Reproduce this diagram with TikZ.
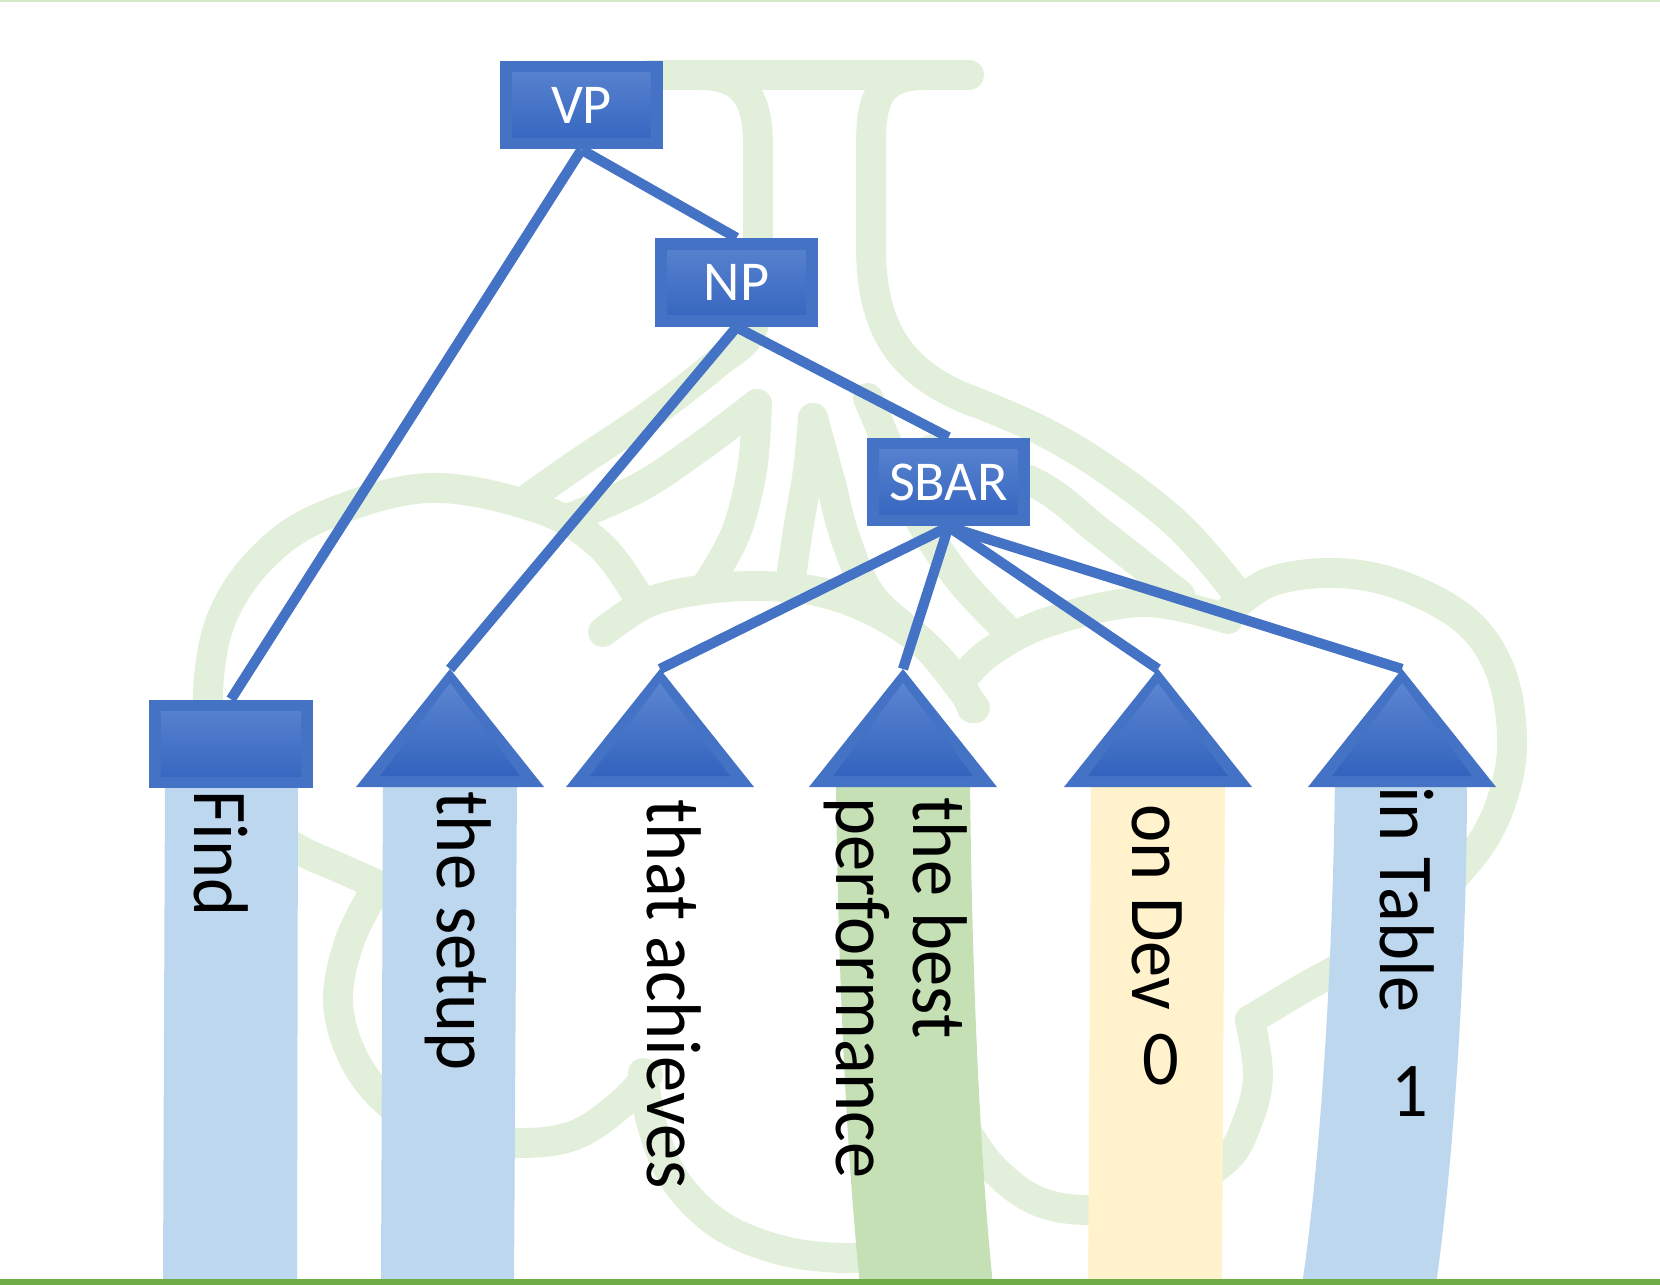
\documentclass[tikz,border=0pt]{standalone}
\usepackage{fontspec}
\setmainfont{Carlito}
\usetikzlibrary{calc}

\definecolor{nodeblue}{HTML}{4472C4}
\definecolor{nodetop}{HTML}{5B85D0}
\definecolor{nodebot}{HTML}{3263BE}
\definecolor{logogreen}{HTML}{E2EFDA}
\definecolor{colblue}{HTML}{BDD7EE}
\definecolor{colgreen}{HTML}{C5E0B4}
\definecolor{colyellow}{HTML}{FFF2CC}
\definecolor{rulegreen}{HTML}{70AD47}
\definecolor{toprule}{HTML}{D5E8C8}

\tikzset{
  logo/.style={draw=logogreen, line width=8.5pt, line cap=round, line join=round},
  edge/.style={draw=nodeblue, line width=2.9pt},
  catbox/.style={rectangle, fill=nodeblue, minimum width=1.62cm, minimum height=0.88cm,
    inner sep=0pt, text=white, font=\fontsize{16pt}{19pt}\selectfont,
    path picture={\shade[top color=nodetop, bottom color=nodebot]
      ($(path picture bounding box.south west)+(0.12cm,0.12cm)$) rectangle
      ($(path picture bounding box.north east)-(0.12cm,0.12cm)$);}},
  word/.style={inner sep=0pt, anchor=base west, rotate=-90, text=black,
    font=\fontsize{20.6pt}{24pt}\selectfont},
  digit/.style={inner sep=0pt, text=black, font=\fontsize{20.6pt}{24pt}\selectfont},
}

% draws a subtree triangle whose apex is the given coordinate
\newcommand{\subtree}[1]{%
  \fill[nodeblue] (#1) -- ++(-94,118) -- ++(188,0) -- cycle;
  \shade[top color=nodetop, bottom color=nodebot] ($(#1)+(0,14)$) -- ++(-70,93) -- ++(140,0) -- cycle;}

\begin{document}
\begin{tikzpicture}[x=0.01cm, y=-0.01cm]
\useasboundingbox (0,0) rectangle (1660,1285);

% ---------- background emblem ----------
% flask mouth and neck
\draw[logo] (650,75) -- (969,75);
\draw[logo] (700,75) .. controls (745,75) and (758,100) .. (758,145) -- (758,270);
\draw[logo] (925,75) .. controls (878,75) and (871,100) .. (871,145) -- (871,250)
  .. controls (872,335) and (905,375) .. (974,402);
\draw[logo] plot[smooth, tension=0.6] coordinates {(960,396) (1040,430) (1110,472) (1180,527) (1233,588)};
\draw[logo] plot[smooth, tension=0.6] coordinates {(930,450) (1033,482) (1100,532) (1180,595)};
% left wall of the flask
\draw[logo] plot[smooth, tension=0.6] coordinates {(758,265) (752,330) (715,365) (650,415) (580,462) (530,497)};
% leaves
\draw[logo] plot[smooth, tension=0.6] coordinates {(757,404) (700,447) (640,487) (570,518)};
\draw[logo] plot[smooth, tension=0.6] coordinates {(757,404) (752,470) (735,535) (705,588)};
\draw[logo] plot[smooth, tension=0.6] coordinates {(813,418) (808,470) (798,530) (790,585)};
\draw[logo] plot[smooth, tension=0.6] coordinates {(813,418) (830,480) (846,540) (873,598) (930,650) (975,708)};
\draw[logo] plot[smooth, tension=0.6] coordinates {(868,398) (890,450) (920,520) (960,580) (1005,628)};
% clouds
\draw[logo] plot[smooth, tension=0.6] coordinates {(378,885) (340,868) (298,849) (250,815) (215,760) (208,693) (221,620) (260,560) (321,517) (428,488) (537,508) (600,545) (640,600)};
\draw[logo] plot[smooth, tension=0.6] coordinates {(603,632) (647,603) (700,590) (760,586) (820,592) (875,612) (925,645) (960,685) (972,708)};
\draw[logo] plot[smooth, tension=0.6] coordinates {(962,680) (990,652) (1048,622) (1143,602) (1228,619)};
\draw[logo] plot[smooth, tension=0.6] coordinates {(1228,612) (1270,582) (1335,573) (1400,585) (1465,620) (1500,670) (1512,735) (1505,790) (1480,845) (1430,900) (1360,955) (1300,990) (1250,1020)};
\draw[logo] plot[smooth, tension=0.6] coordinates {(1250,1020) (1258,1075) (1248,1120) (1225,1160) (1160,1200) (1090,1210) (1035,1200) (990,1165) (960,1120)};
\draw[logo] plot[smooth, tension=0.6] coordinates {(643,1073) (652,1125) (675,1180) (720,1225) (780,1250) (840,1258) (880,1255)};
\draw[logo] plot[smooth, tension=0.6] coordinates {(378,885) (350,940) (338,1000) (352,1055) (385,1100) (440,1135) (519,1143) (575,1135) (620,1105) (648,1075)};

% ---------- frame rules ----------
\fill[toprule] (0,0) rectangle (1660,2);

% ---------- word columns ----------
\fill[colblue] (165,780) -- (298,780) -- (297,1285) -- (163,1285) -- cycle;
\fill[colblue] (383,780) -- (517,780) -- (514,1285) -- (381,1285) -- cycle;
\fill[colgreen] (836,778) -- (970,778) .. controls (972,1000) and (982,1180) .. (993,1285)
  -- (860,1285) .. controls (849,1180) and (838,1000) .. (836,778) -- cycle;
\fill[colyellow] (1091,778) -- (1225,778) -- (1222,1285) -- (1088,1285) -- cycle;
\fill[colblue] (1335,778) -- (1467,778) .. controls (1467,950) and (1455,1150) .. (1436,1285)
  -- (1302,1285) .. controls (1322,1150) and (1333,950) .. (1335,778) -- cycle;

\fill[rulegreen] (0,1279) rectangle (1660,1285);

% ---------- tree ----------
\node[catbox] (vp) at (581.5,105) {VP};
\node[catbox] (np) at (736.5,282.5) {NP};
\node[catbox] (sbar) at (948.5,482) {SBAR};
\node[catbox, minimum width=1.64cm] (find) at (231,744) {};

\coordinate (t1) at (450,669);
\coordinate (t2) at (660,669);
\coordinate (t3) at (903,669);
\coordinate (t4) at (1158,669);
\coordinate (t5) at (1402,669);

\draw[edge] (vp.south) -- (find.north);
\draw[edge] (vp.south) -- (np.north);
\draw[edge] (np.south) -- (t1);
\draw[edge] (np.south) -- (sbar.north);
\draw[edge] (sbar.south) -- (t2);
\draw[edge] (sbar.south) -- (t3);
\draw[edge] (sbar.south) -- (t4);
\draw[edge] (sbar.south) -- (t5);

\subtree{t1}
\subtree{t2}
\subtree{t3}
\subtree{t4}
\subtree{t5}

% ---------- words ----------
\node[word] (w1) at (194,790) {\scalebox{1}[1.07]{Find}};
\node[word] (w2) at (437,791) {\scalebox{1}[1.07]{the setup}};
\node[word] (w3) at (647,799) {\scalebox{1}[1.07]{that achieves}};
\node[word] (w4a) at (913,797) {\scalebox{1}[1.07]{the best}};
\node[word] (w4b) at (836,797) {\scalebox{1}[1.07]{performance}};
\node[word] (w5) at (1132,804) {\scalebox{1}[1.07]{on Dev}};
\node[word] (w6) at (1380,786) {\scalebox{1}[1.07]{in Table}};
\node[digit] (d0) at (1161,1060) {\scalebox{1}[1.07]{0}};
\node[digit] (d1) at (1410,1092) {\scalebox{1}[1.07]{1}};

\end{tikzpicture}
\end{document}
